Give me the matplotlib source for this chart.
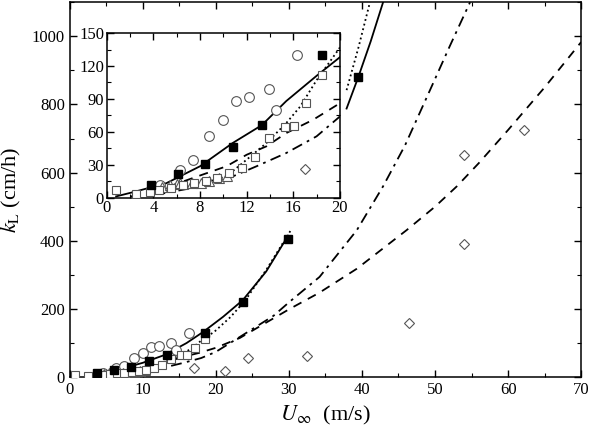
import numpy as np
import matplotlib.pyplot as plt
from matplotlib.ticker import MultipleLocator

plt.rcParams['font.family'] = ['Liberation Serif', 'DejaVu Serif']
plt.rcParams['mathtext.fontset'] = 'stix'

# data ---------------------------------------------------------------
sq_fill_x = [3.8, 6.1, 8.4, 10.8, 13.3, 18.5, 23.7, 29.9, 39.5]
sq_fill_y = [11, 21.5, 31, 46, 66, 130, 221, 405, 880]

sq_open_x = [0.8, 2.5, 3.7, 4.5, 5.5, 6.5, 7.5, 8.5, 9.5, 10.5, 11.6, 12.7, 13.9, 15.3, 16.1, 17.1, 18.5]
sq_open_y = [7, 3, 5, 7, 9, 11, 13, 15, 18, 22, 27, 37, 54, 64, 65, 86, 112]

circ_x = [4.6, 6.3, 7.4, 8.8, 10.0, 11.1, 12.2, 13.9, 14.5, 16.3]
circ_y = [11, 25.5, 34, 56, 71, 88, 92, 99, 80, 130]

tri_x = [4.7, 5.4, 6.0, 6.3, 7.3, 8.1, 8.8, 9.6, 10.3]
tri_y = [10, 11, 12, 13, 13, 13, 15, 18, 20]

dia_x = [17.0, 21.3, 24.4, 32.5, 46.4, 54.0, 54.0, 62.2]
dia_y = [26, 19, 57, 62, 160, 392, 653, 726]

# curves (main axes)
solid_x = [2.5, 4, 6, 8, 10, 13, 16, 18.3, 21, 23.7, 26.9, 29.9]
solid_y = [4, 10, 20, 30, 42, 65, 100, 133, 177, 226, 310, 415]
solid2_x = [37.9, 39.5, 41.2, 42.9]
solid2_y = [788, 880, 985, 1100]

dot_x = [5, 8, 10.3, 12, 13.7, 15.4, 16.6, 18, 19.85, 22, 24, 27, 30.3]
dot_y = [6, 12, 19, 34, 50, 68, 83, 107, 134, 176, 224, 318, 432]
dot2_x = [37.9, 39.5, 41.1]
dot2_y = [842, 965, 1100]

dash_x = [8, 10.3, 12, 13.7, 15.4, 17.7, 20, 23.3, 26.5, 30.1, 34.2, 39.3, 46.1, 50, 53, 56, 60, 65, 70]
dash_y = [20, 28, 39, 47, 59, 71, 86, 115, 155, 200, 248, 318, 431, 500, 560, 628, 725, 850, 983]

dashdot_x = [4, 8.8, 10.8, 12.9, 15.4, 18, 20, 23.3, 27.9, 30.1, 34.2, 39.3, 42.9, 45.9, 49.8, 52, 54.8]
dashdot_y = [3, 12, 19, 28, 41, 56, 74, 118, 180, 221, 294, 431, 560, 680, 865, 970, 1100]

# curves (inset)
in_solid_x = [0.8, 2.3, 5.1, 8, 10.8, 13.3, 15.4, 18, 20]
in_solid_y = [1, 5, 13, 28.5, 49.7, 66, 88, 111, 128]
in_dot_x = [5, 8, 10.27, 12, 13.7, 15.4, 16.6, 18, 19.85, 20.2]
in_dot_y = [6, 12, 19.4, 34.5, 49.7, 67.9, 83, 107, 134.5, 140]
in_dash_x = [4, 7.98, 10.27, 12, 13.7, 15.4, 17.7, 20]
in_dash_y = [5, 20, 28.5, 39, 46.7, 58.8, 70.9, 86]
in_dashdot_x = [2, 5, 8.84, 10.84, 12.85, 15.4, 18.0, 20]
in_dashdot_y = [1, 4, 11.8, 19.4, 28.5, 40.6, 55.8, 73.9]


def markers(ax, ms):
    ax.plot(circ_x, circ_y, 'o', ms=ms + 1, mfc='white', mec='#555555', mew=0.8, zorder=3)
    ax.plot(tri_x, tri_y, '^', ms=ms + 1, mfc='white', mec='#555555', mew=0.8, zorder=3)
    ax.plot(sq_open_x, sq_open_y, 's', ms=ms, mfc='white', mec='#555555', mew=0.8, zorder=3)
    ax.plot(dia_x, dia_y, 'D', ms=ms - 1, mfc='white', mec='#555555', mew=0.8, zorder=3)
    ax.plot(sq_fill_x, sq_fill_y, 's', ms=ms, mfc='black', mec='black', zorder=4)


def style(ax, size):
    ax.tick_params(which='both', direction='in', top=True, right=True, labelsize=size)
    ax.tick_params(which='major', length=5, width=1)
    ax.tick_params(which='minor', length=3, width=0.8)
    for s in ax.spines.values():
        s.set_linewidth(1.1)


fig = plt.figure(figsize=(5.9, 4.36), dpi=100)
ax = fig.add_axes([0.118, 0.135, 0.867, 0.86])

ax.plot(solid_x, solid_y, '-', color='black', lw=1.3)
ax.plot(solid2_x, solid2_y, '-', color='black', lw=1.3)
ax.plot(dot_x, dot_y, ':', color='black', lw=1.3)
ax.plot(dot2_x, dot2_y, ':', color='black', lw=1.3)
ax.plot(dash_x, dash_y, color='black', lw=1.3, dashes=(5, 4))
ax.plot(dashdot_x, dashdot_y, color='black', lw=1.3, dashes=(6, 3, 1.5, 3))
markers(ax, 6)

ax.set_xlim(0, 70)
ax.set_ylim(0, 1100)
ax.xaxis.set_major_locator(MultipleLocator(10))
ax.xaxis.set_minor_locator(MultipleLocator(5))
ax.yaxis.set_major_locator(MultipleLocator(200))
ax.yaxis.set_minor_locator(MultipleLocator(100))
style(ax, 12)
ax.set_xlabel(r'$U_{\infty}$  (m/s)', fontsize=16, labelpad=4)
ax.set_ylabel(r'$k_{\rm L}$ (cm/h)', fontsize=16, labelpad=6)

# inset
ins = fig.add_axes([0.181, 0.547, 0.395, 0.377])
ins.set_facecolor('white')
ins.plot(in_solid_x, in_solid_y, '-', color='black', lw=1.3)
ins.plot(in_dot_x, in_dot_y, ':', color='black', lw=1.3)
ins.plot(in_dash_x, in_dash_y, color='black', lw=1.3, dashes=(5, 4))
ins.plot(in_dashdot_x, in_dashdot_y, color='black', lw=1.3, dashes=(6, 3, 1.5, 3))
markers(ins, 6)
ins.set_xlim(0, 20)
ins.set_ylim(0, 150)
ins.xaxis.set_major_locator(MultipleLocator(4))
ins.xaxis.set_minor_locator(MultipleLocator(2))
ins.yaxis.set_major_locator(MultipleLocator(30))
ins.yaxis.set_minor_locator(MultipleLocator(15))
style(ins, 12)
ins.tick_params(axis='x', pad=2)
ins.tick_params(axis='y', pad=2)

fig.savefig('out.png', dpi=100)
